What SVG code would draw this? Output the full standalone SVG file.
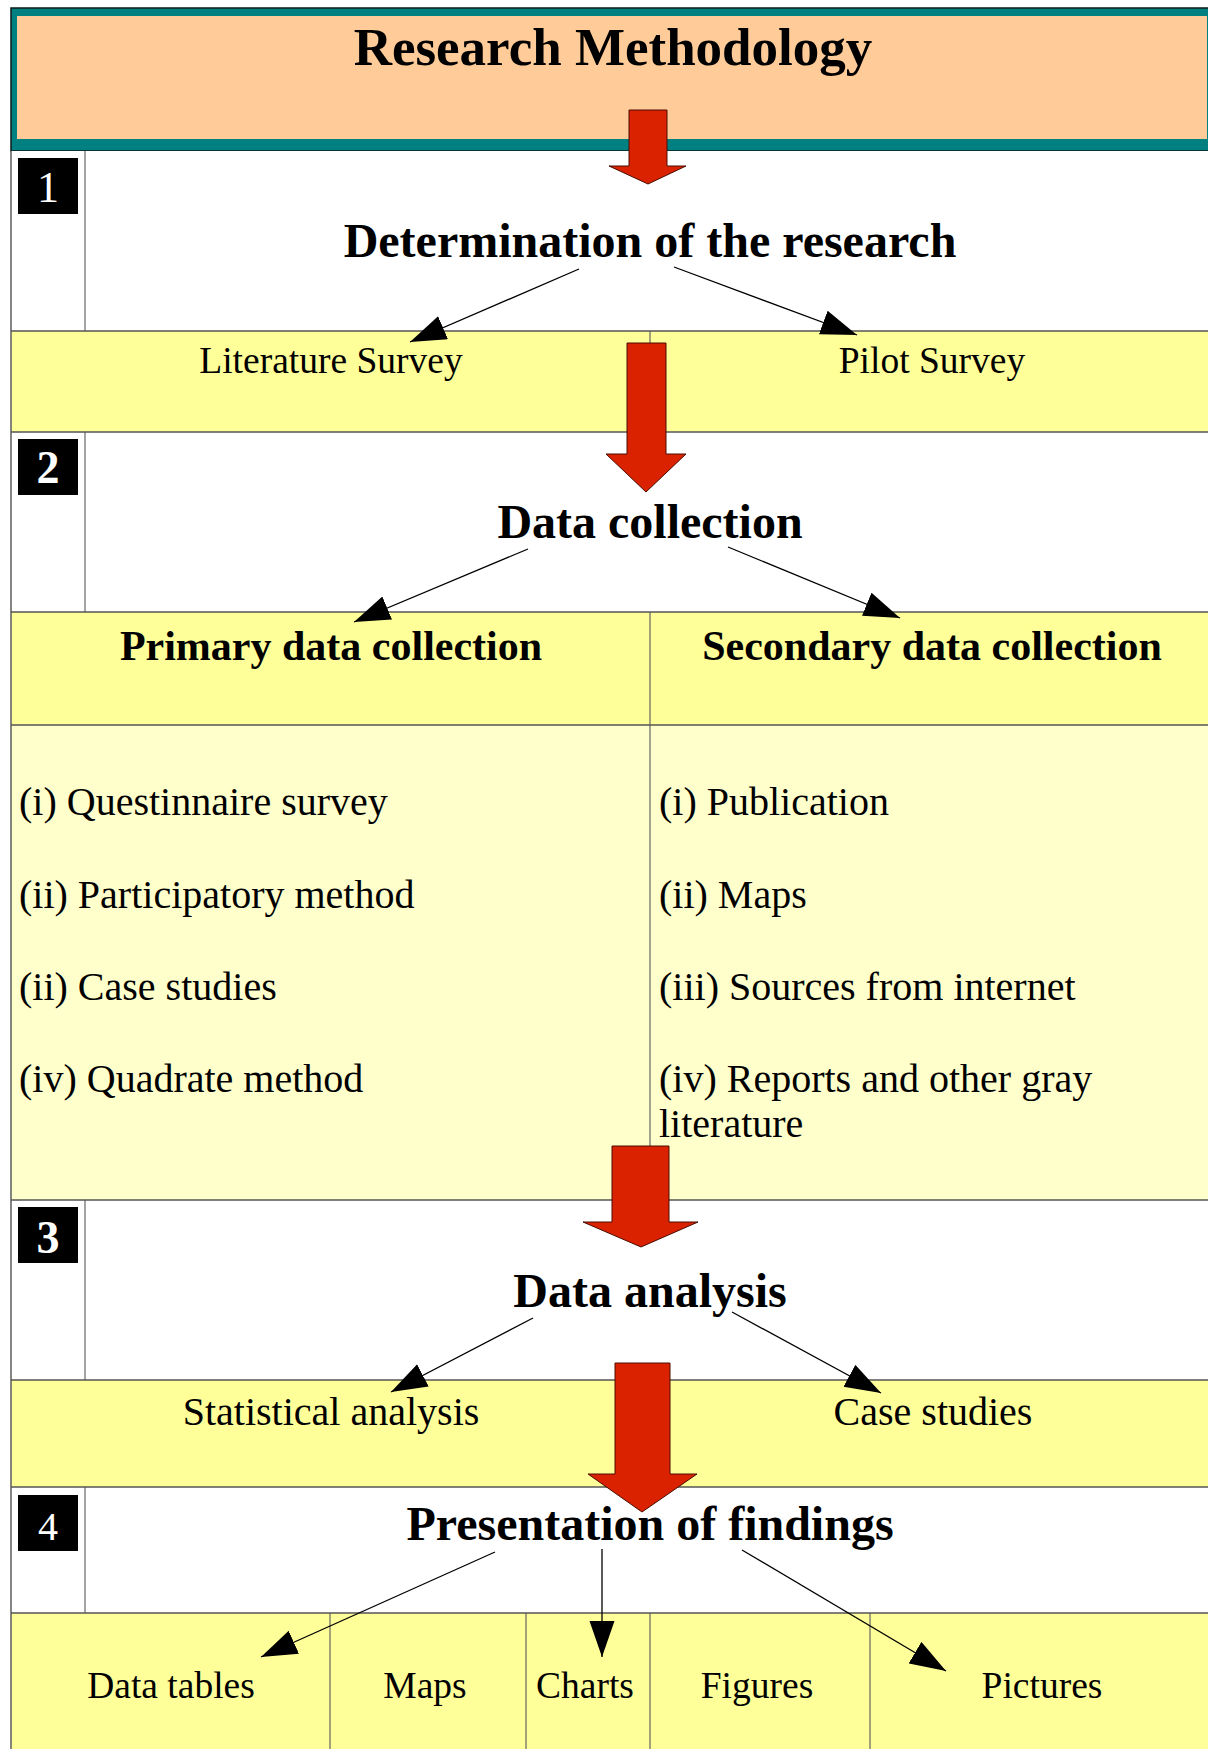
<svg xmlns="http://www.w3.org/2000/svg" width="1208" height="1749" viewBox="0 0 1208 1749">
  <style>
    .serif { font-family: "Liberation Serif", "Times New Roman", serif; fill: #000; }
    .title { font-size: 53px; font-weight: bold; text-anchor: middle; }
    .section { font-size: 48px; font-weight: bold; text-anchor: middle; }
    .sub { font-size: 42px; font-weight: bold; text-anchor: middle; }
    .label { font-size: 37.5px; text-anchor: middle; }
    .label-lg { font-size: 40px; text-anchor: middle; }
    .item { font-size: 40px; }
    .num { font-size: 44px; fill: #fff; text-anchor: middle; font-family: "Liberation Serif", "Times New Roman", serif; }
    .num-bold { font-size: 46px; font-weight: bold; }
    .num-small { font-size: 40px; }
    .numbox { fill: #000; }
    .hline { stroke: #555; stroke-width: 1.6; }
    .vline { stroke: #666; stroke-width: 1.2; }
    .white { fill: #ffffff; }
    .yellow { fill: #ffff99; }
    .pale { fill: #ffffcc; }
    .conn { stroke: #000; stroke-width: 1.3; fill: none; marker-end: url(#head); }
    .flow { fill: #da2200; stroke: #4a0c00; stroke-width: 1; }
  </style>
  <defs>
    <marker id="head" markerUnits="userSpaceOnUse" markerWidth="38" markerHeight="26" refX="36" refY="12.5" orient="auto">
      <path d="M0,0 L36,12.5 L0,25 Z" fill="#000"/>
    </marker>
  </defs>

  <rect width="1208" height="1749" fill="#fff"/>

  <!-- header banner -->
  <g id="header">
    <rect x="11" y="8" width="1205" height="143" fill="#008080" stroke="#0a1a1a" stroke-width="1.5"/>
    <rect x="17" y="16" width="1190" height="123" fill="#ffcc99"/>
    <line x1="11" y1="152" x2="1208" y2="152" stroke="#999" stroke-width="1.5"/>
    <text class="serif title" x="613" y="65">Research Methodology</text>
  </g>

  <!-- stage 1 -->
  <g id="stage1">
    <rect class="white" x="11" y="151" width="1197" height="180"/>
    <line class="vline" x1="85" y1="151" x2="85" y2="331"/>
    <rect class="numbox" x="18" y="158" width="60" height="56"/>
    <text class="num" x="48" y="202">1</text>
    <text class="serif section" x="650" y="257">Determination of the research</text>
  </g>
  <g id="stage1-options">
    <rect class="yellow" x="11" y="331" width="1197" height="101"/>
    <line class="vline" x1="650" y1="331" x2="650" y2="432"/>
    <text class="serif label" x="331" y="373">Literature Survey</text>
    <text class="serif label" x="932" y="373">Pilot Survey</text>
  </g>

  <!-- stage 2 -->
  <g id="stage2">
    <rect class="white" x="11" y="432" width="1197" height="180"/>
    <line class="vline" x1="85" y1="432" x2="85" y2="612"/>
    <rect class="numbox" x="18" y="439" width="60" height="56"/>
    <text class="num num-bold" x="48" y="483">2</text>
    <text class="serif section" x="650" y="538">Data collection</text>
  </g>
  <g id="stage2-headings">
    <rect class="yellow" x="11" y="612" width="1197" height="113"/>
    <line class="vline" x1="650" y1="612" x2="650" y2="725"/>
    <text class="serif sub" x="331" y="660">Primary data collection</text>
    <text class="serif sub" x="932" y="660">Secondary data collection</text>
  </g>
  <g id="stage2-lists">
    <rect class="pale" x="11" y="725" width="1197" height="475"/>
    <line class="vline" x1="650" y1="725" x2="650" y2="1200"/>
    <text class="serif item" x="19" y="815">(i) Questinnaire survey</text>
    <text class="serif item" x="19" y="908">(ii) Participatory method</text>
    <text class="serif item" x="19" y="1000">(ii) Case studies</text>
    <text class="serif item" x="19" y="1092">(iv) Quadrate method</text>
    <text class="serif item" x="659" y="815">(i) Publication</text>
    <text class="serif item" x="659" y="908">(ii) Maps</text>
    <text class="serif item" x="659" y="1000">(iii) Sources from internet</text>
    <text class="serif item" x="659" y="1092">(iv) Reports and other gray</text>
    <text class="serif item" x="659" y="1137">literature</text>
  </g>

  <!-- stage 3 -->
  <g id="stage3">
    <rect class="white" x="11" y="1200" width="1197" height="180"/>
    <line class="vline" x1="85" y1="1200" x2="85" y2="1380"/>
    <rect class="numbox" x="18" y="1207" width="60" height="56"/>
    <text class="num num-bold" x="48" y="1253">3</text>
    <text class="serif section" x="650" y="1307">Data analysis</text>
  </g>
  <g id="stage3-methods">
    <rect class="yellow" x="11" y="1380" width="1197" height="107"/>
    <text class="serif label-lg" x="331" y="1425">Statistical analysis</text>
    <text class="serif label-lg" x="933" y="1425">Case studies</text>
  </g>

  <!-- stage 4 -->
  <g id="stage4">
    <rect class="white" x="11" y="1487" width="1197" height="126"/>
    <line class="vline" x1="85" y1="1487" x2="85" y2="1613"/>
    <rect class="numbox" x="18" y="1495" width="60" height="56"/>
    <text class="num num-small" x="48" y="1540">4</text>
    <text class="serif section" x="650" y="1540">Presentation of findings</text>
  </g>
  <g id="stage4-outputs">
    <rect class="yellow" x="11" y="1613" width="1197" height="136"/>
    <line class="vline" x1="330" y1="1613" x2="330" y2="1749"/>
    <line class="vline" x1="526" y1="1613" x2="526" y2="1749"/>
    <line class="vline" x1="650" y1="1613" x2="650" y2="1749"/>
    <line class="vline" x1="870" y1="1613" x2="870" y2="1749"/>
    <text class="serif label" x="171" y="1698">Data tables</text>
    <text class="serif label" x="425" y="1698">Maps</text>
    <text class="serif label" x="585" y="1698">Charts</text>
    <text class="serif label" x="757" y="1698">Figures</text>
    <text class="serif label" x="1042" y="1698">Pictures</text>
  </g>

  <!-- table rules -->
  <g id="rules">
    <line class="vline" x1="11" y1="151" x2="11" y2="1749" style="stroke-width:1.6"/>
    <line class="hline" x1="11" y1="331" x2="1208" y2="331"/>
    <line class="hline" x1="11" y1="432" x2="1208" y2="432"/>
    <line class="hline" x1="11" y1="612" x2="1208" y2="612"/>
    <line class="hline" x1="11" y1="725" x2="1208" y2="725"/>
    <line class="hline" x1="11" y1="1200" x2="1208" y2="1200"/>
    <line class="hline" x1="11" y1="1380" x2="1208" y2="1380"/>
    <line class="hline" x1="11" y1="1487" x2="1208" y2="1487"/>
    <line class="hline" x1="11" y1="1613" x2="1208" y2="1613"/>
  </g>

  <!-- connectors -->
  <g id="connectors">
    <line class="conn" x1="579" y1="269" x2="410" y2="342"/>
    <line class="conn" x1="674" y1="267" x2="857" y2="335"/>
    <line class="conn" x1="528" y1="549" x2="354" y2="622"/>
    <line class="conn" x1="728" y1="547" x2="900" y2="618"/>
    <line class="conn" x1="533" y1="1318" x2="391" y2="1392"/>
    <line class="conn" x1="732" y1="1312" x2="881" y2="1393"/>
    <line class="conn" x1="495" y1="1552" x2="261" y2="1657"/>
    <line class="conn" x1="602" y1="1549" x2="602" y2="1657"/>
    <line class="conn" x1="742" y1="1550" x2="946" y2="1671"/>
  </g>

  <!-- stage-to-stage flow arrows -->
  <g id="flow-arrows">
    <path class="flow" d="M629,110 H667 V166 H686 L648,184 L609,166 H629 Z"/>
    <path class="flow" d="M627,343 H666 V454 H686 L646,492 L606,454 H627 Z"/>
    <path class="flow" d="M612,1146 H669 V1222 H698 L641,1247 L583,1222 H612 Z"/>
    <path class="flow" d="M615,1363 H670 V1474 H697 L642,1512 L588,1474 H615 Z"/>
  </g>
</svg>
